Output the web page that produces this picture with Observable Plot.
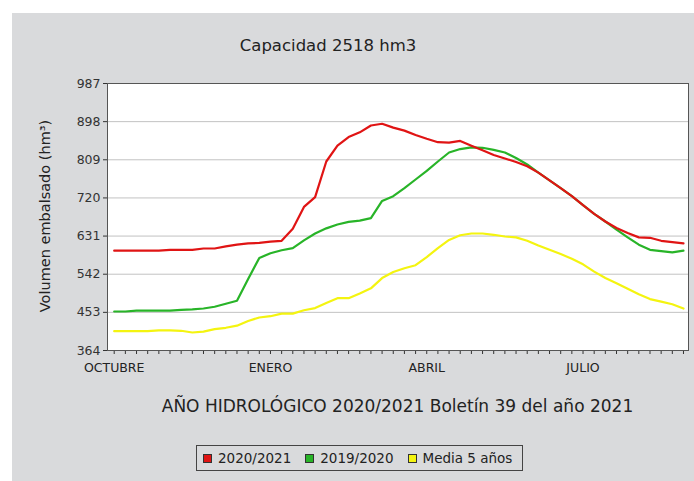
<!DOCTYPE html>
<html><head><meta charset="utf-8">
<script src="https://cdn.jsdelivr.net/npm/d3@7"></script>
<script src="https://cdn.jsdelivr.net/npm/@observablehq/plot@0.6"></script>
<style>
html,body{margin:0;padding:0;background:#fff;}
#wrap{position:relative;width:694px;height:481px;overflow:hidden;font-family:"DejaVu Sans",sans-serif;color:#222;}
#panel{position:absolute;left:12px;top:13px;right:0;bottom:0;background:#d9dadc;}
#chart{position:absolute;left:0;top:0;}
#title{position:absolute;top:35px;left:0;width:656px;text-align:center;font-size:16.5px;line-height:22px;}
#xlabel{position:absolute;top:395px;left:107px;width:581px;text-align:center;font-size:17px;line-height:22px;}
#ylabel{position:absolute;left:-105px;top:206px;width:300px;text-align:center;font-size:14.5px;line-height:20px;transform:rotate(-90deg);transform-origin:center;}
#legend{position:absolute;left:196px;top:445px;width:327px;height:26px;border:1px solid #444;display:flex;align-items:center;font-size:13.5px;box-sizing:border-box;padding-left:6px;white-space:nowrap;}
#legend .it{display:flex;align-items:center;margin-right:14px;white-space:nowrap;}
#legend .sw{width:7px;height:7px;border:1px solid #333;margin-right:6px;flex:none;}
</style></head>
<body>
<div id="wrap">
  <div id="panel"></div>
  <div id="chart"></div>
  <div id="title">Capacidad 2518 hm3</div>
  <div id="xlabel">AÑO HIDROLÓGICO 2020/2021 Boletín 39 del año 2021</div>
  <div id="ylabel">Volumen embalsado (hm³)</div>
  <div id="legend"></div>
</div>
<script>
const weeks = d3.range(52);
const s2021 = [597,597,597,597,597,599,599,599,602,602,607,611,614,615,618,620,648,699,722,805,842,862,873,889,893,884,877,867,858,850,849,853,842,831,820,812,804,794,779,761,743,724,703,683,665,650,638,628,627,620,617,614];
const s2020 = [455,455,457,457,457,457,459,460,462,466,473,480,531,580,591,598,603,621,637,649,658,664,667,673,713,724,743,763,783,805,826,834,838,837,832,826,813,798,779,761,743,724,703,683,665,646,628,611,599,596,593,597];
const sMedia = [409,409,409,409,411,411,410,406,408,414,417,422,433,441,444,450,450,458,463,475,486,486,497,509,533,547,556,563,582,603,622,633,637,637,634,630,628,620,609,599,589,578,565,548,533,521,508,495,484,478,472,462];
const seriesNames = ["2020/2021","2019/2020","Media 5 años"];
const seriesColors = ["#e01414","#28b428","#f4f410"];
const yTicks = [364,453,542,631,720,809,898,987];
const monthLabels = ["OCTUBRE","ENERO","ABRIL","JULIO"];
const monthWeeks = [0,14,28,42];

const rows = [];
[[sMedia,2],[s2020,1],[s2021,0]].forEach(([arr,s]) => arr.forEach((v,i) => rows.push({week: weeks[i], value: v, series: seriesNames[s]})));

const chart = Plot.plot({
  width: 694, height: 481,
  marginLeft: 107, marginRight: 6, marginTop: 83, marginBottom: 131,
  style: {background: "transparent", fontFamily: "DejaVu Sans", fontSize: "12.5px", color: "#333"},
  x: {domain: [-0.6, 51.45], axis: null},
  y: {domain: [364, 987], axis: null},
  color: {domain: seriesNames, range: seriesColors},
  marks: [
    Plot.frame({fill: "white", stroke: null}),
    Plot.gridY(yTicks, {stroke: "#c2c2c2", strokeOpacity: 1}),
    Plot.axisY(yTicks, {tickSize: 4, tickPadding: 3, label: null, fill: "#333"}),
    Plot.axisX(weeks, {tickSize: 4, tickFormat: () => "", label: null}),
    Plot.axisX(monthWeeks, {tickSize: 0, tickPadding: 13, tickFormat: d => monthLabels[monthWeeks.indexOf(d)], label: null, fill: "#222"}),
    Plot.lineY(rows, {x: "week", y: "value", stroke: "series", z: "series", strokeWidth: 2.2}),
    Plot.frame({stroke: "#555"})
  ]
});
document.getElementById("chart").appendChild(chart);

const leg = document.getElementById("legend");
seriesNames.forEach((n, i) => {
  const it = document.createElement("div"); it.className = "it";
  const sw = document.createElement("div"); sw.className = "sw"; sw.style.background = seriesColors[i];
  it.appendChild(sw); it.appendChild(document.createTextNode(n));
  leg.appendChild(it);
});
</script>
</body></html>
